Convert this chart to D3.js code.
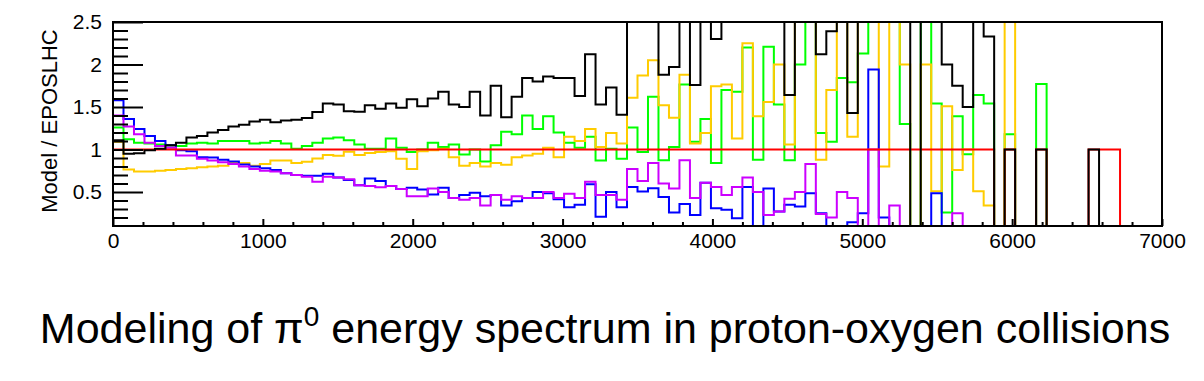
<!DOCTYPE html>
<html>
<head>
<meta charset="utf-8">
<script src="https://cdn.jsdelivr.net/npm/d3@7"></script>
<style>
  html, body { margin: 0; padding: 0; background: #fff; }
  svg { display: block; font-family: "Liberation Sans", Arial, sans-serif; }
</style>
</head>
<body>
<div id="chart"></div>
<script>
// bins of 70 GeV from 0 to 7000
const binWidth = 70;
const nBins = 100;
const HI = 3; // above the visible range

// ratio Model / EPOSLHC per bin
const black = [1.11,0.95,0.955,0.99,1.01,1.05,1.08,1.14,1.16,1.20,
  1.23,1.27,1.29,1.33,1.35,1.32,1.34,1.35,1.37,1.44,
  1.54,1.53,1.45,1.445,1.52,1.48,1.54,1.49,1.59,1.51,
  1.60,1.68,1.53,1.50,1.68,1.40,1.75,1.38,1.62,1.84,
  1.80,1.86,1.84,1.84,1.63,2.12,1.53,1.73,1.41,HI,
  HI,HI,1.88,1.97,HI,1.76,HI,2.30,HI,HI,
  HI,HI,HI,HI,1.64,HI,HI,2.12,2.39,HI,
  1.43,HI,HI,HI,HI,HI,0,HI,HI,2.0,
  1.75,1.50,HI,2.33,0,1,0,0,1,0,
  0,0,0,1,0,0,0,0,0,0];

const green = [1.26,1.12,1.08,1.07,1.06,1.05,1.04,1.07,1.08,1.07,
  1.10,1.10,1.10,1.07,1.08,1.10,1.07,1.01,1.04,1.08,
  1.13,1.14,1.11,1.06,1.01,1.01,1.13,1.02,0.97,1.00,
  1.08,1.03,1.06,0.94,1.00,0.86,1.05,1.21,1.18,1.40,
  1.24,1.39,1.20,1.08,1.02,1.15,0.87,1.01,0.89,1.26,
  0.97,1.62,0.875,1.03,1.765,1.09,1.36,0.84,1.70,1.68,
  2.20,0.88,2.21,1.53,0.875,2.0,HI,1.195,1.09,1.84,
  1.79,2.13,HI,HI,HI,1.30,0,HI,1.54,0.26,
  1.39,0.945,1.64,1.54,0,1.18,0,0,1.77,0,
  0,0,0,0,0,0,0,0,0,0];

const yellow = [1.09,0.766,0.74,0.74,0.75,0.758,0.77,0.778,0.79,0.80,
  0.81,0.84,0.84,0.81,0.83,0.87,0.87,0.84,0.855,0.895,
  0.934,0.926,0.973,0.934,0.96,0.97,0.98,0.89,0.77,0.98,
  0.99,1.01,0.91,0.81,0.84,0.80,0.84,0.82,0.91,0.93,
  0.95,1.02,0.91,1.15,1.10,1.24,1.03,1.195,1.07,1.61,
  1.87,2.05,1.52,1.375,1.88,1.07,1.195,1.745,1.765,1.13,
  2.25,1.39,1.56,2.0,1.06,HI,HI,0.88,1.70,HI,
  1.15,HI,HI,0.80,HI,2.0,0,2.0,0.51,1.51,
  0.76,1.0,0.51,0.34,0,HI,0,0,0,0,
  0,0,0,0,0,0,0,0,0,0];

const blue = [1.58,1.36,1.24,1.16,1.10,1.05,0.99,0.98,0.91,0.906,
  0.88,0.86,0.824,0.80,0.78,0.76,0.72,0.70,0.69,0.69,
  0.715,0.67,0.64,0.58,0.66,0.63,0.57,0.535,0.55,0.53,
  0.47,0.55,0.43,0.465,0.49,0.45,0.465,0.34,0.39,0.43,
  0.50,0.485,0.415,0.32,0.35,0.59,0.21,0.50,0.32,0.56,
  0.505,0.545,0.44,0.26,0.36,0.23,0.61,0.31,0.29,0.19,
  0.56,0,0.54,0.27,0.35,0.33,0.485,0.25,0,0,
  0.145,0.25,1.94,0.20,0,0,0,0,0.485,0,
  0,0,0,0,0,0,0,0,0,0,
  0,0,0,0,0,0,0,0,0,0];

const magenta = [1.40,1.27,1.18,1.08,1.04,1.02,0.93,0.93,0.89,0.87,
  0.85,0.83,0.80,0.77,0.75,0.74,0.72,0.70,0.68,0.62,
  0.68,0.67,0.65,0.58,0.57,0.555,0.57,0.535,0.45,0.45,
  0.54,0.50,0.43,0.41,0.43,0.34,0.465,0.41,0.45,0.43,
  0.43,0.50,0.43,0.48,0.43,0.62,0.465,0.465,0.41,0.77,
  0.63,0.84,0.60,0.54,0.875,0.43,0.61,0.56,0.465,0.56,
  0.67,0.50,0.23,0.27,0.42,0.50,0.83,0.24,0.20,0.50,
  0.43,0,1.0,0,0.34,0,0,0,0,0,
  0.25,0,0,0,0,0,0,0,0,0,
  0,0,0,0,0,0,0,0,0,0];

// EPOSLHC / EPOSLHC (1 where the reference is filled)
const red = [1,1,1,1,1,1,1,1,1,1, 1,1,1,1,1,1,1,1,1,1,
  1,1,1,1,1,1,1,1,1,1, 1,1,1,1,1,1,1,1,1,1,
  1,1,1,1,1,1,1,1,1,1, 1,1,1,1,1,1,1,1,1,1,
  1,1,1,1,1,1,1,1,1,1, 1,1,1,1,1,1,1,1,1,1,
  1,1,1,1,0,1,0,0,1,0, 0,0,0,1,1,1,0,0,0,0];

const xTicks = [0, 1000, 2000, 3000, 4000, 5000, 6000, 7000];
const yTicks = [0.5, 1, 1.5, 2, 2.5];

const series = [
  { name: "green", values: green, color: "#00ff00" },
  { name: "yellow", values: yellow, color: "#ffcc00" },
  { name: "blue", values: blue, color: "#0000ff" },
  { name: "magenta", values: magenta, color: "#cc00ff" },
  { name: "red", values: red, color: "#ff0000" },
  { name: "black", values: black, color: "#000000" }
];

const width = 1204, height = 381;
const marginLeft = 113, marginRight = 42, marginTop = 22, frameBottom = 226;

const svg = d3.select("#chart").append("svg")
  .attr("width", width)
  .attr("height", height)
  .attr("viewBox", [0, 0, width, height]);

const x = d3.scaleLinear().domain([0, 7000]).range([marginLeft, width - marginRight]);
const y = d3.scaleLinear().domain([0.1, 2.5]).range([frameBottom, marginTop]);

svg.append("clipPath").attr("id", "frame")
  .append("rect")
  .attr("x", x(0)).attr("y", y(2.5))
  .attr("width", x(7000) - x(0)).attr("height", y(0.1) - y(2.5));

// step histograms
const step = d3.line()
  .x(d => x(d[0]))
  .y(d => y(d[1]))
  .curve(d3.curveStepAfter);

const plot = svg.append("g").attr("clip-path", "url(#frame)");
series.forEach(s => {
  const pts = s.values.map((v, i) => [i * binWidth, v]);
  pts.push([nBins * binWidth, s.values[nBins - 1]]);
  plot.append("path")
    .attr("fill", "none")
    .attr("stroke", s.color)
    .attr("stroke-width", 2)
    .attr("d", step(pts));
});

// frame
svg.append("rect")
  .attr("x", x(0)).attr("y", y(2.5))
  .attr("width", x(7000) - x(0)).attr("height", y(0.1) - y(2.5))
  .attr("fill", "none")
  .attr("stroke", "#000")
  .attr("stroke-width", 2);

// y axis: major and minor ticks pointing inside
const yMinor = d3.range(2, 26).map(d => d / 10).filter(d => !yTicks.includes(d));
svg.append("g")
  .attr("transform", `translate(${x(0)},0)`)
  .call(d3.axisLeft(y).tickValues(yMinor).tickSize(-15).tickFormat(""))
  .call(g => g.select(".domain").remove())
  .call(g => g.selectAll(".tick line").attr("stroke-width", 2));

svg.append("g")
  .attr("transform", `translate(${x(0)},0)`)
  .call(d3.axisLeft(y).tickValues(yTicks).tickSize(-30).tickPadding(11).tickFormat(d3.format("~g")))
  .call(g => g.select(".domain").remove())
  .call(g => g.selectAll(".tick line").attr("stroke-width", 2))
  .call(g => g.selectAll(".tick text")
    .attr("font-size", 21)
    .attr("font-family", "Liberation Sans, Arial, sans-serif")
    .attr("fill", "#000"));

// x axis
const xMinor = d3.range(200, 7000, 200).filter(d => d % 1000 !== 0);
svg.append("g")
  .attr("transform", `translate(0,${y(0.1)})`)
  .call(d3.axisBottom(x).tickValues(xMinor).tickSize(-4).tickFormat(""))
  .call(g => g.select(".domain").remove())
  .call(g => g.selectAll(".tick line").attr("stroke-width", 2));

svg.append("g")
  .attr("transform", `translate(0,${y(0.1)})`)
  .call(d3.axisBottom(x).tickValues(xTicks).tickSize(-7).tickPadding(7).tickFormat(d3.format("d")))
  .call(g => g.select(".domain").remove())
  .call(g => g.selectAll(".tick line").attr("stroke-width", 2))
  .call(g => g.selectAll(".tick text")
    .attr("font-size", 21)
    .attr("font-family", "Liberation Sans, Arial, sans-serif")
    .attr("fill", "#000"));

// y title
svg.append("text")
  .attr("transform", `translate(57,${(y(2.5) + y(0.1)) / 2 - 3}) rotate(-90)`)
  .attr("text-anchor", "middle")
  .attr("font-size", 22)
  .attr("fill", "#000")
  .text("Model / EPOSLHC");

// title
const title = svg.append("text")
  .attr("x", 605)
  .attr("y", 343)
  .attr("text-anchor", "middle")
  .attr("font-size", 43)
  .attr("fill", "#000");
title.append("tspan").text("Modeling of \u03c0");
title.append("tspan").attr("font-size", 28).attr("dy", -17).text("0");
title.append("tspan").attr("dy", 17).text(" energy spectrum in proton-oxygen collisions");
</script>
</body>
</html>
